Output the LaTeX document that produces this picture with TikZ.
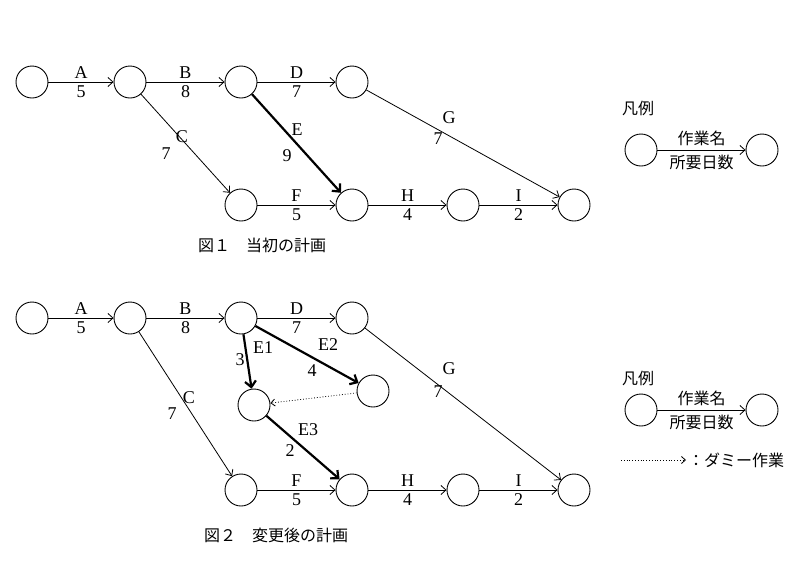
\documentclass[tikz,border=0pt]{standalone}
\usepackage{fontspec}
\setmainfont{Liberation Serif}
\newfontfamily\cjk{Noto Sans CJK JP}
\usetikzlibrary{arrows.meta}
\begin{document}
\begin{tikzpicture}[x=1pt,y=-1pt,
  ev/.style={circle,draw,line width=0.9pt,minimum size=32pt,inner sep=0pt},
  act/.style={draw,line width=0.8pt,-{Straight Barb[length=5pt,width=9pt]}},
  crit/.style={draw,line width=2.2pt,-{Straight Barb[length=6pt,width=11pt]}},
  dum/.style={draw,line width=0.8pt,dotted,-{Straight Barb[length=4pt,width=7pt]}},
  lb/.style={font=\fontsize{18}{20}\selectfont,inner sep=1pt},
  up/.style={lb,above=2pt}, dn/.style={lb,below=2pt},
  jp/.style={font=\cjk\fontsize{16}{18}\selectfont,inner sep=1pt}]
\useasboundingbox (0,0) rectangle (800,560);
% Figure 1
\node[ev] (a1) at (32,82) {};
\node[ev] (a2) at (130,82) {};
\node[ev] (a3) at (241,82) {};
\node[ev] (a4) at (352,82) {};
\node[ev] (a5) at (241,205) {};
\node[ev] (a6) at (352,205) {};
\node[ev] (a7) at (463,205) {};
\node[ev] (a8) at (574,205) {};
\draw[act] (a1) -- node[up]{A} node[dn]{5} (a2);
\draw[act] (a2) -- node[up]{B} node[dn]{8} (a3);
\draw[act] (a3) -- node[up]{D} node[dn]{7} (a4);
\draw[act] (a2) -- (a5);
\node[lb] (tC1) at (182,137) {C}; \node[lb] (t71) at (166,154) {7};
\draw[crit] (a3) -- (a6);
\node[lb] (tE1) at (297,130) {E}; \node[lb] (t91) at (287,156) {9};
\draw[act] (a5) -- node[up]{F} node[dn]{5} (a6);
\draw[act] (a6) -- node[up]{H} node[dn]{4} (a7);
\draw[act] (a7) -- node[up]{I} node[dn]{2} (a8);
\draw[act] (a4) -- (a8);
\node[lb] (tG1) at (449,118) {G}; \node[lb] (t7g1) at (438,139) {7};
% legend 1
\node[jp] (lg1) at (638,108) {凡例};
\node[ev] (l1a) at (641,150) {};
\node[ev] (l1b) at (762,150) {};
\draw[act] (l1a) -- node[jp,above=3pt]{作業名} node[jp,below=4pt]{所要日数} (l1b);
\node[jp] (cap1) at (262,245) {図１　当初の計画};
% Figure 2
\node[ev] (b1) at (32,318) {};
\node[ev] (b2) at (130,318) {};
\node[ev] (b3) at (241,318) {};
\node[ev] (b4) at (352,318) {};
\node[ev] (b9) at (254,405) {};
\node[ev] (b10) at (373,391) {};
\node[ev] (b5) at (241,490) {};
\node[ev] (b6) at (352,490) {};
\node[ev] (b7) at (463,490) {};
\node[ev] (b8) at (574,490) {};
\draw[act] (b1) -- node[up]{A} node[dn]{5} (b2);
\draw[act] (b2) -- node[up]{B} node[dn]{8} (b3);
\draw[act] (b3) -- node[up]{D} node[dn]{7} (b4);
\draw[act] (b2) -- (b5);
\node[lb] (tC2) at (189,398) {C}; \node[lb] (t72) at (172,414) {7};
\draw[crit] (b3) -- (b9);
\node[lb] (tE1b) at (263,348) {E1}; \node[lb] (t3) at (240,360) {3};
\draw[crit] (b3) -- (b10);
\node[lb] (tE2) at (328,345) {E2}; \node[lb] (t4) at (312,371) {4};
\draw[dum] (b10) -- (b9);
\draw[crit] (b9) -- (b6);
\node[lb] (tE3) at (308,430) {E3}; \node[lb] (t2) at (290,451) {2};
\draw[act] (b5) -- node[up]{F} node[dn]{5} (b6);
\draw[act] (b6) -- node[up]{H} node[dn]{4} (b7);
\draw[act] (b7) -- node[up]{I} node[dn]{2} (b8);
\draw[act] (b4) -- (b8);
\node[lb] (tG2) at (449,369) {G}; \node[lb] (t7g2) at (438,392) {7};
% legend 2
\node[jp] (lg2) at (638,378) {凡例};
\node[ev] (l2a) at (641,410) {};
\node[ev] (l2b) at (762,410) {};
\draw[act] (l2a) -- node[jp,above=3pt]{作業名} node[jp,below=4pt]{所要日数} (l2b);
\coordinate (d1) at (621,460);
\coordinate (d2) at (686,460);
\draw[dum] (d1) -- (d2);
\node[jp,anchor=west] (dl) at (687,460) {：ダミー作業};
\node[jp] (cap2) at (276,535) {図２　変更後の計画};
\end{tikzpicture}
\end{document}
